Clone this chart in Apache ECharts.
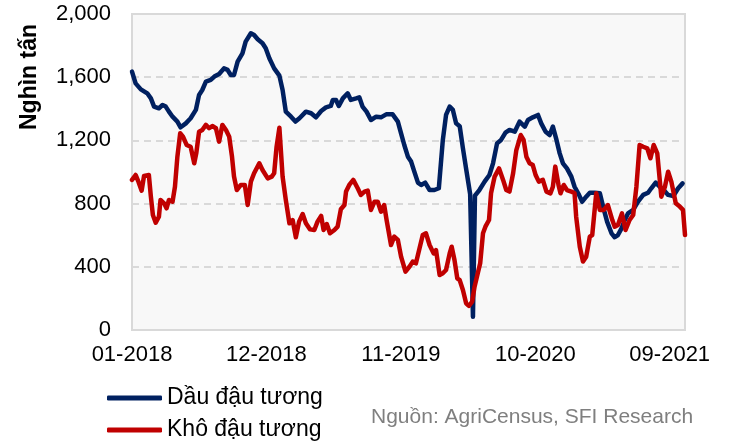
<!DOCTYPE html>
<html>
<head>
<meta charset="utf-8">
<script src="https://cdn.jsdelivr.net/npm/echarts@6/dist/echarts.min.js"></script>
</head>
<body style="margin: 0; background: #fff">
<div id="container" style="width: 729px; height: 447px"></div>
<script>
// truc x tinh theo so ngay ke tu 01-01-2018
var xLabels = ['01-2018', '12-2018', '11-2019', '10-2020', '09-2021'];
var labelStep = 334.75;
var lastDay = 1377;
var seriesNames = ['Dầu đậu tương', 'Khô đậu tương'];

// Dau dau tuong (nghin tan)
var oilDays = [0, 9, 22, 38, 47, 55, 67, 76, 84, 92, 101, 113, 121, 134, 146, 159, 167, 175, 184, 196,
  205, 217, 229, 238, 246, 254, 263, 275, 283, 296, 304, 313, 325, 333, 342, 354, 367, 375, 383, 396,
  407, 417, 433, 446, 458, 471, 483, 495, 500, 508, 515, 525, 537, 545, 558, 566, 574, 584, 595, 608,
  620, 633, 649, 662, 670, 678, 687, 695, 703, 712, 720, 730, 741, 753, 764, 774, 782, 791, 799, 807,
  816, 824, 832, 842, 849, 854, 865, 878, 890, 899, 909, 919, 930, 940, 953, 965, 978, 986, 998, 1011,
  1019, 1030, 1040, 1048, 1057, 1065, 1073, 1083, 1094, 1102, 1113, 1121, 1131, 1140, 1152, 1165, 1173, 1183, 1194, 1202,
  1210, 1219, 1227, 1235, 1248, 1260, 1273, 1285, 1293, 1304, 1314, 1324, 1335, 1348, 1360, 1371];
var oilVals = [1635, 1561, 1523, 1498, 1466, 1414, 1403, 1424, 1414, 1382, 1350, 1319, 1283, 1308, 1340, 1393, 1488, 1519, 1572, 1583,
  1604, 1620, 1656, 1646, 1614, 1614, 1699, 1751, 1825, 1878, 1867, 1840, 1815, 1783, 1720, 1656, 1610, 1519, 1382, 1350,
  1319, 1340, 1382, 1372, 1346, 1386, 1409, 1418, 1456, 1456, 1418, 1466, 1498, 1456, 1466, 1473, 1414, 1382, 1329, 1350,
  1346, 1365, 1365, 1319, 1245, 1171, 1097, 1066, 1002, 933, 918, 933, 886, 886, 897, 1203, 1361, 1414, 1393, 1308,
  1290, 1150, 1020, 860, 84, 850, 886, 939, 981, 1055, 1181, 1203, 1249, 1266, 1255, 1319, 1287, 1329, 1346, 1361,
  1308, 1255, 1234, 1287, 1203, 1118, 1055, 1023, 971, 907, 855, 812, 844, 869, 869, 865, 781, 686, 612, 587,
  601, 643, 696, 738, 760, 812, 855, 869, 897, 933, 907, 886, 855, 848, 897, 928];

// Kho dau tuong (nghin tan)
var mealDays = [0, 9, 16, 24, 30, 42, 47, 52, 59, 67, 71, 80, 86, 92, 101, 107, 113, 120, 127, 136,
  146, 155, 160, 167, 175, 184, 192, 200, 209, 217, 225, 234, 242, 249, 254, 261, 271, 281, 288, 296,
  304, 317, 325, 338, 348, 354, 360, 367, 375, 383, 392, 400, 408, 416, 425, 433, 443, 454, 462, 471,
  477, 485, 493, 504, 512, 520, 529, 533, 541, 551, 562, 570, 579, 587, 595, 604, 612, 620, 628, 634,
  645, 653, 662, 670, 681, 691, 699, 707, 716, 724, 732, 741, 751, 757, 766, 774, 782, 791, 796, 803,
  810, 816, 824, 832, 839, 847, 853, 861, 867, 874, 880, 889, 894, 903, 914, 924, 932, 940, 949, 957,
  968, 975, 982, 990, 998, 1005, 1013, 1023, 1032, 1042, 1048, 1054, 1062, 1067, 1075, 1083, 1094, 1102, 1106, 1115,
  1123, 1131, 1140, 1146, 1156, 1165, 1175, 1185, 1196, 1202, 1210, 1220, 1229, 1239, 1248, 1256, 1264, 1273, 1283, 1291,
  1299, 1308, 1318, 1327, 1335, 1343, 1354, 1364, 1372, 1377];
var mealVals = [950, 981, 939, 882, 975, 981, 844, 728, 679, 717, 823, 802, 770, 823, 812, 907, 1097, 1245, 1224, 1171,
  1160, 1055, 1118, 1255, 1266, 1298, 1277, 1291, 1277, 1192, 1298, 1266, 1224, 1097, 971, 886, 918, 918, 791, 939,
  992, 1055, 1013, 960, 971, 992, 1160, 1280, 971, 823, 675, 696, 587, 686, 734, 675, 637, 633, 686, 722,
  633, 671, 612, 633, 654, 764, 791, 876, 918, 950, 897, 855, 876, 882, 760, 812, 812, 749, 791, 696,
  538, 591, 570, 464, 369, 401, 433, 422, 517, 601, 612, 538, 485, 506, 348, 359, 380, 485, 527, 443,
  327, 316, 253, 169, 152, 179, 274, 359, 422, 612, 654, 696, 865, 971, 1023, 950, 886, 876, 992, 1139,
  1234, 1203, 1097, 1055, 1044, 981, 939, 950, 876, 865, 907, 1034, 918, 865, 918, 886, 876, 865, 717, 527,
  433, 464, 591, 601, 865, 760, 760, 791, 696, 654, 665, 738, 633, 696, 728, 907, 1171, 1160, 1150, 1087,
  1171, 1118, 844, 907, 1002, 939, 802, 781, 760, 601];

function pairs(days, vals) {
  return days.map(function (d, i) { return [d, vals[i]]; });
}

var font = 'Liberation Sans, Arial, sans-serif';
var dom = document.getElementById('container');
var myChart = echarts.init(dom, null, { renderer: 'canvas' });

// moi dong chu thich la mot legend rieng de xep doc
function legendRow(name, top) {
  return {
    data: [name],
    left: 107,
    top: top,
    padding: 0,
    itemWidth: 55,
    itemHeight: 5,
    icon: 'roundRect',
    textStyle: { color: '#000', fontSize: 23, fontFamily: font, lineHeight: 26 }
  };
}

var option = {
  backgroundColor: '#fff',
  animation: false,
  textStyle: { fontFamily: font },
  grid: {
    left: 132, right: 44, top: 14, bottom: 117,
    show: true,
    backgroundColor: '#f8f8f8',
    borderColor: '#d9d9d9',
    borderWidth: 2
  },
  xAxis: {
    type: 'value',
    min: 0,
    max: lastDay,
    interval: labelStep,
    axisLine: { show: false },
    axisTick: { show: false },
    splitLine: { show: false },
    axisLabel: {
      color: '#000',
      fontSize: 22,
      fontFamily: font,
      margin: 14,
      formatter: function (v) {
        var i = Math.round(v / labelStep);
        if (Math.abs(v - i * labelStep) < 1 && i < xLabels.length) return xLabels[i];
        return '';
      }
    }
  },
  yAxis: {
    type: 'value',
    min: 0,
    max: 2000,
    interval: 400,
    axisLine: { show: false },
    axisTick: { show: false },
    splitLine: {
      lineStyle: { color: '#d9d9d9', width: 2, type: [7, 5] }
    },
    axisLabel: {
      color: '#000',
      fontSize: 22,
      fontFamily: font,
      margin: 21,
      formatter: function (v) { return v.toLocaleString('en-US'); }
    }
  },
  legend: [legendRow(seriesNames[0], 385), legendRow(seriesNames[1], 417)],
  graphic: [
    {
      type: 'text',
      x: 30,
      y: 77,
      rotation: Math.PI / 2,
      style: {
        text: 'Nghìn tấn',
        font: 'bold 23px ' + font,
        fill: '#000',
        align: 'center',
        verticalAlign: 'middle'
      }
    },
    {
      type: 'text',
      x: 371,
      y: 417,
      style: {
        text: 'Nguồn: AgriCensus, SFI Research',
        font: '21px ' + font,
        fill: '#7f7f7f',
        align: 'left',
        verticalAlign: 'middle'
      }
    }
  ],
  series: [
    {
      name: seriesNames[0],
      type: 'line',
      data: pairs(oilDays, oilVals),
      showSymbol: false,
      symbol: 'none',
      color: '#002060',
      lineStyle: { width: 4.5, color: '#002060', join: 'round', cap: 'round' },
      z: 3
    },
    {
      name: seriesNames[1],
      type: 'line',
      data: pairs(mealDays, mealVals),
      showSymbol: false,
      symbol: 'none',
      color: '#c00000',
      lineStyle: { width: 4.5, color: '#c00000', join: 'round', cap: 'round' },
      z: 4
    }
  ]
};

myChart.setOption(option);
</script>
</body>
</html>
